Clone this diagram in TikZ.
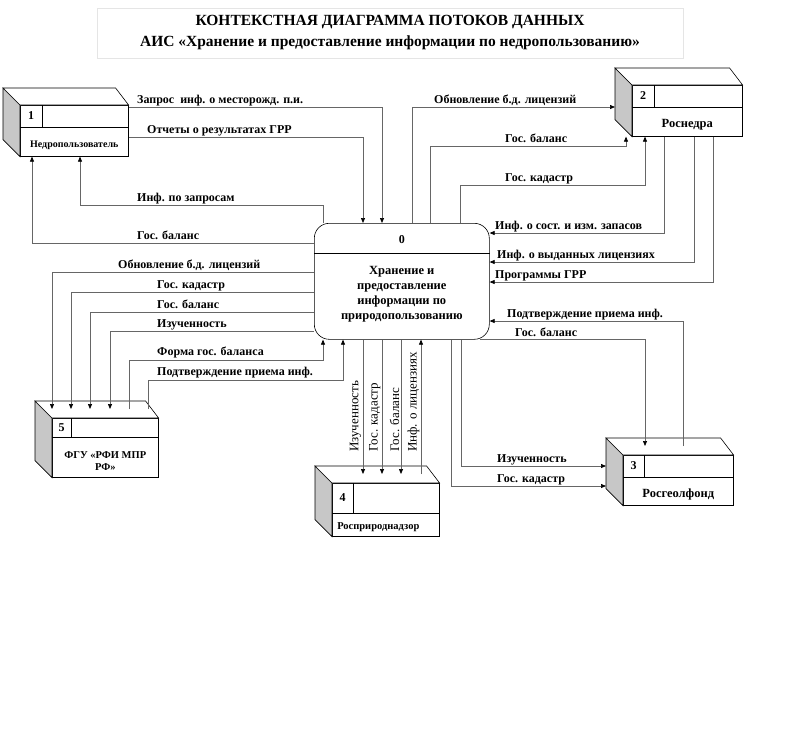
\documentclass[tikz,border=0pt]{standalone}
\usepackage{fontspec}
\setmainfont{Liberation Serif}
\usetikzlibrary{arrows.meta}
\tikzset{
    %Define standard arrow tip
    >={Triangle[length=5pt,width=4pt,color=black]},
    %Define style for boxes
    extfront/.style={
           rectangle,
           draw=black, line width=0.6pt,
           fill=white,
           inner sep=0pt},
    extside/.style={draw=black, line width=0.6pt, fill=black!22},
    exttop/.style={draw=black, line width=0.6pt, fill=white},
    extline/.style={draw=black, line width=0.6pt},
    proc/.style={
           rectangle,
           rounded corners=15pt,
           draw=black, line width=0.6pt,
           minimum width=175pt,
           minimum height=116pt,
           inner sep=0pt},
    titlebox/.style={draw=black!10, line width=0.6pt, inner sep=0pt},
    ttl/.style={font=\bfseries\fontsize{15.5}{21}\selectfont, align=center, inner sep=0pt},
    num/.style={font=\bfseries\fontsize{12}{12}\selectfont, inner sep=0pt},
    boxtext/.style={font=\bfseries\fontsize{10.5}{12}\selectfont, align=center, inner sep=0pt},
    % Define label style
    lbl/.style={font=\bfseries\fontsize{12}{12}\selectfont, inner sep=0pt, anchor=base west},
    vlbl/.style={font=\fontsize{13}{13}\selectfont, inner sep=0pt, rotate=90, anchor=south west},
    % Define arrow style
    flow/.style={->, draw=black!60, line width=0.7pt}
}
% external entity: name, x, y, width, height, divider, cell, number, text
\newcommand\extbox[9]{%
  \node[extfront, minimum width=#4pt, minimum height=#5pt, anchor=north west] (#1) at (#2,#3) {};
  \coordinate (#1-back) at ([shift={(-17,-17)}]#1.south west);
  \coordinate (#1-top) at ([shift={(0,-9)}]#1.north);
  \filldraw[extside] (#1.north west) -- ([shift={(-17,-17)}]#1.north west) -- (#1-back) -- (#1.south west) -- cycle;
  \filldraw[exttop] (#1.north west) -- ([shift={(-17,-17)}]#1.north west) -- ([shift={(-13,-17)}]#1.north east) -- (#1.north east) -- cycle;
  \draw[extline] ([shift={(0,#6)}]#1.north west) -- ([shift={(0,#6)}]#1.north east);
  \draw[extline] ([shift={(#7,0)}]#1.north west) -- ([shift={(#7,#6)}]#1.north west);
  \node[num] (#1-num) at ([shift={({#7/2},{#6/2})}]#1.north west) {#8};
  \node[boxtext] (#1-txt) at ([shift={(0,{-(#5-#6)/2+3})}]#1.south) {#9};
}

\begin{document}
\begin{tikzpicture}[x=1pt,y=-1pt]
\useasboundingbox (0,0) rectangle (800,748);

 %title
\node[titlebox, minimum width=586pt, minimum height=50pt] (title) at (390,33) {};
\node[ttl] (title-txt) at (390,32.5) {КОНТЕКСТНАЯ ДИАГРАММА ПОТОКОВ ДАННЫХ\\АИС «Хранение и предоставление информации по недропользованию»};

 %nodes
\extbox{nedro}{20}{105}{108}{51}{22}{22}{1}{\fontsize{10}{11}\selectfont Недропользователь}
\extbox{nedra}{632}{85}{110}{51}{22}{22}{2}{\fontsize{12.5}{13}\selectfont Роснедра}
\extbox{geo}{623}{455}{110}{50}{22}{21}{3}{\fontsize{12.5}{13}\selectfont Росгеолфонд}
\extbox{insp}{332}{483}{107}{53}{30}{21}{4}{\raisebox{5pt}{\hspace*{-15pt}Росприроднадзор}}
\extbox{rfi}{52}{418}{106}{59}{19}{19}{5}{ФГУ «РФИ МПР\\РФ»}

\node[proc, anchor=north west] (proc) at (314,223) {};
\draw[extline] ([shift={(0,30)}]proc.north west) -- ([shift={(0,30)}]proc.north east);
\node[num] (proc-num) at ([shift={(0,17)}]proc.north) {0};
\node[boxtext, font=\bfseries\fontsize{12.5}{15}\selectfont] (proc-txt) at ([shift={(0,-45)}]proc.south) {Хранение и\\предоставление\\информации по\\природопользованию};

 %flows: Недропользователь
\draw[flow] (nedro.east |- 0,107) -| (proc.north -| 382,0);
\draw[flow] (nedro.east |- 0,137) -| (proc.north -| 363,0);
\draw[flow] (proc.north -| 323,0) -- ++(0,-18) -| (nedro.south -| 80,0);
\draw[flow] (proc.west |- 0,243) -| (nedro.south -| 32,0);
\node[lbl] (l-zapros) at (137,103) {Запрос~ инф. о месторожд. п.и.};
\node[lbl] (l-otchet) at (147,133) {Отчеты о результатах ГРР};
\node[lbl] (l-inf) at (137,201) {Инф. по запросам};
\node[lbl] (l-bal1) at (137,239) {Гос. баланс};

 %flows: Роснедра
\draw[flow] (proc.north -| 412,0) |- (nedra-back |- 0,107);
\draw[flow] (proc.north -| 430,0) -- ++(0,-77) -| (nedra.south -| 626,0);
\draw[flow] (proc.north -| 460,0) -- ++(0,-38) -| (nedra.south -| 645,0);
\draw[flow] (nedra.south -| 664,0) |- (proc.east |- 0,233);
\draw[flow] (nedra.south -| 694,0) |- (proc.east |- 0,262);
\draw[flow] (nedra.south -| 713,0) |- (proc.east |- 0,282);
\node[lbl] (l-obn2) at (434,103) {Обновление б.д. лицензий};
\node[lbl] (l-bal2) at (505,142) {Гос. баланс};
\node[lbl] (l-kad2) at (505,181) {Гос. кадастр};
\node[lbl] (l-zap) at (495,229) {Инф. о сост. и изм. запасов};
\node[lbl] (l-lic) at (497,258) {Инф. о выданных лицензиях};
\node[lbl] (l-grr) at (495,278) {Программы ГРР};

 %flows: Росгеолфонд
\draw[flow] (geo-top -| 683,0) |- (proc.east |- 0,321);
\draw[flow] (proc.south -| 480,0) -| (geo-top -| 645,0);
\draw[flow] (proc.south -| 461,0) |- (geo-back |- 0,466);
\draw[flow] (proc.south -| 451,0) |- (geo-back |- 0,486);
\node[lbl] (l-pod3) at (507,317) {Подтверждение приема инф.};
\node[lbl] (l-bal3) at (515,336) {Гос. баланс};
\node[lbl] (l-izu3) at (497,462) {Изученность};
\node[lbl] (l-kad3) at (497,482) {Гос. кадастр};

 %flows: Росприроднадзор
\draw[flow] (proc.south -| 363,0) -- (insp-top -| 363,0);
\draw[flow] (proc.south -| 382,0) -- (insp-top -| 382,0);
\draw[flow] (proc.south -| 401,0) -- (insp-top -| 401,0);
\draw[flow] (insp-top -| 421,0) -- (proc.south -| 421,0);
\node[vlbl] (v-izu4) at (361.5,452) {Изученность};
\node[vlbl] (v-kad4) at (380.5,452) {Гос. кадастр};
\node[vlbl] (v-bal4) at (399.5,452) {Гос. баланс};
\node[vlbl] (v-lic4) at (419.5,452) {Инф. о лицензиях};

 %flows: ФГУ
\draw[flow] (proc.west |- 0,272) -| (rfi-top -| 52,0);
\draw[flow] (proc.west |- 0,292) -| (rfi-top -| 71,0);
\draw[flow] (proc.west |- 0,312) -| (rfi-top -| 90,0);
\draw[flow] (proc.west |- 0,331) -| (rfi-top -| 110,0);
\draw[flow] (rfi-top -| 129,0) -- ++(0,-49) -| (proc.south -| 323,0);
\draw[flow] (rfi-top -| 148,0) -- ++(0,-29) -| (proc.south -| 343,0);
\node[lbl] (l-obn5) at (118,268) {Обновление б.д. лицензий};
\node[lbl] (l-kad5) at (157,288) {Гос. кадастр};
\node[lbl] (l-bal5) at (157,308) {Гос. баланс};
\node[lbl] (l-izu5) at (157,327) {Изученность};
\node[lbl] (l-form) at (157,355) {Форма гос. баланса};
\node[lbl] (l-pod5) at (157,375) {Подтверждение приема инф.};

\end{tikzpicture}
\end{document}
